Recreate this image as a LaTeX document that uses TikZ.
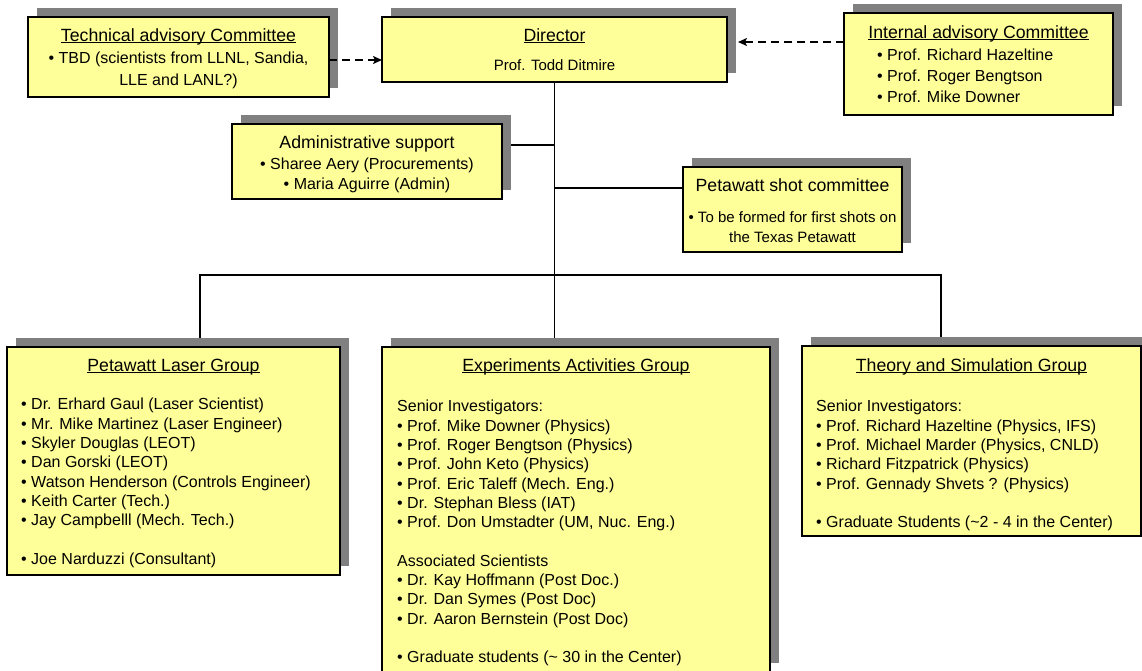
\documentclass[tikz,border=0pt]{standalone}
\usepackage{fontspec}
\setmainfont{Liberation Sans}
\usetikzlibrary{arrows.meta,shadows,backgrounds}
\definecolor{boxfill}{HTML}{FFFF99}
\definecolor{shade}{HTML}{808080}
\newcommand\uln[1]{\setbox0\hbox{#1}\rlap{\rule[-2.2pt]{\wd0}{1.1pt}}\box0}
\newcommand\firstl{\rule{0pt}{12pt}}
\tikzset{
 orgbox/.style={draw=black, line width=1.2pt, fill=boxfill, inner sep=0pt, outer sep=0pt, anchor=north west,
   general shadow={fill=shade, shadow xshift=9pt, shadow yshift=9pt}},
 ttl/.style={font=\fontsize{17.7}{20}\selectfont, anchor=base, inner sep=0pt},
 bodyc/.style={align=center, anchor=north, inner sep=0pt},
 bodyl/.style={align=left, anchor=north west, inner sep=0pt, font=\fontsize{16}{19.3}\selectfont},
 link/.style={line width=1.6pt},
 dasharrow/.style={line width=2.2pt, dash pattern=on 8pt off 5pt, -{Stealth[length=9pt,width=8pt,inset=2pt]}},
}
\begin{document}
\begin{tikzpicture}[x=1pt,y=-1pt]
\useasboundingbox (0,0) rectangle (1142,670);
% boxes
\node[orgbox, minimum width=301, minimum height=80] (tech) at (28,17) {};
\node[orgbox, minimum width=345, minimum height=65] (director) at (382,17) {};
\node[orgbox, minimum width=269, minimum height=102] (internal) at (844,13) {};
\node[orgbox, minimum width=270, minimum height=75] (admin) at (232,124) {};
\node[orgbox, minimum width=219, minimum height=85] (shot) at (683,167) {};
\node[orgbox, minimum width=333, minimum height=228] (laser) at (7,347) {};
\node[orgbox, minimum width=388, minimum height=325] (exp) at (382,347) {};
\node[orgbox, minimum width=339, minimum height=190] (theory) at (802,346) {};
% connectors
\begin{scope}[on background layer]
\coordinate (busL) at (200,275);
\coordinate (busR) at (941,275);
\draw[link] (director.south) -- (director.south |- exp.north);
\draw[link] ([yshift=16.5pt]admin.east) -- ([yshift=16.5pt]admin.east -| director.south);
\draw[link] ([yshift=21.5pt]shot.west) -- ([yshift=21.5pt]shot.west -| director.south);
\draw[link] (laser.north -| busL) -- (busL) -- (busR) -- (busR |- theory.north);
\end{scope}
\draw[dasharrow] ([yshift=-3pt]tech.east) -- ([yshift=-3pt]tech.east -| director.west);
\draw[dasharrow] ([yshift=22pt]internal.west) -- ([xshift=11pt,yshift=22pt]director.east |- internal.west);
% texts
\node[ttl] (techT) at (178.5,41) {\uln{Technical advisory Committee}};
\node[bodyc, font=\fontsize{16}{22}\selectfont] (techB) at (178.5,51.7) {\firstl• TBD (scientists from LLNL, Sandia,\\LLE and LANL?)};
\node[ttl] (dirT) at (554.5,41) {\uln{Director}};
\node[anchor=base, inner sep=0pt, font=\fontsize{15}{18}\selectfont] (dirS) at (554.5,70.7) {Prof. Todd Ditmire};
\node[ttl] (intT) at (978.5,38) {\uln{Internal advisory Committee}};
\node[bodyl, font=\fontsize{16}{21}\selectfont] (intB) at (877,48.7) {\firstl• Prof. Richard Hazeltine\\• Prof. Roger Bengtson\\• Prof. Mike Downer};
\node[ttl] (admT) at (367,148.5) {Administrative support};
\node[bodyc, font=\fontsize{16}{20}\selectfont] (admB) at (367,157.5) {\firstl• Sharee Aery (Procurements)\\• Maria Aguirre (Admin)};
\node[ttl] (shotT) at (792.5,191.3) {Petawatt shot committee};
\node[bodyc, font=\fontsize{15}{20}\selectfont] (shotB) at (792.5,210.7) {\firstl• To be formed for first shots on\\the Texas Petawatt};
\node[ttl] (laserT) at (173.5,371) {\uln{Petawatt Laser Group}};
\node[bodyl] (laserB) at (21,397.7) {\firstl• Dr. Erhard Gaul (Laser Scientist)\\• Mr. Mike Martinez (Laser Engineer)\\• Skyler Douglas (LEOT)\\• Dan Gorski (LEOT)\\• Watson Henderson (Controls Engineer)\\• Keith Carter (Tech.)\\• Jay Campbelll (Mech. Tech.)\\[19.3pt]• Joe Narduzzi (Consultant)};
\node[ttl] (expT) at (576,371) {\uln{Experiments Activities Group}};
\node[bodyl] (expB) at (397,399.7) {\firstl Senior Investigators:\\• Prof. Mike Downer (Physics)\\• Prof. Roger Bengtson (Physics)\\• Prof. John Keto (Physics)\\• Prof. Eric Taleff (Mech. Eng.)\\• Dr. Stephan Bless (IAT)\\• Prof. Don Umstadter (UM, Nuc. Eng.)\\[19.3pt]Associated Scientists\\• Dr. Kay Hoffmann (Post Doc.)\\• Dr. Dan Symes (Post Doc)\\• Dr. Aaron Bernstein (Post Doc)\\[19.3pt]• Graduate students (\textasciitilde{} 30 in the Center)};
\node[ttl] (thT) at (971.5,371) {\uln{Theory and Simulation Group}};
\node[bodyl] (thB) at (816,399.7) {\firstl Senior Investigators:\\• Prof. Richard Hazeltine (Physics, IFS)\\• Prof. Michael Marder (Physics, CNLD)\\• Richard Fitzpatrick (Physics)\\• Prof. Gennady Shvets ? (Physics)\\[19.3pt]• Graduate Students (\textasciitilde2 - 4 in the Center)};
\end{tikzpicture}
\end{document}
